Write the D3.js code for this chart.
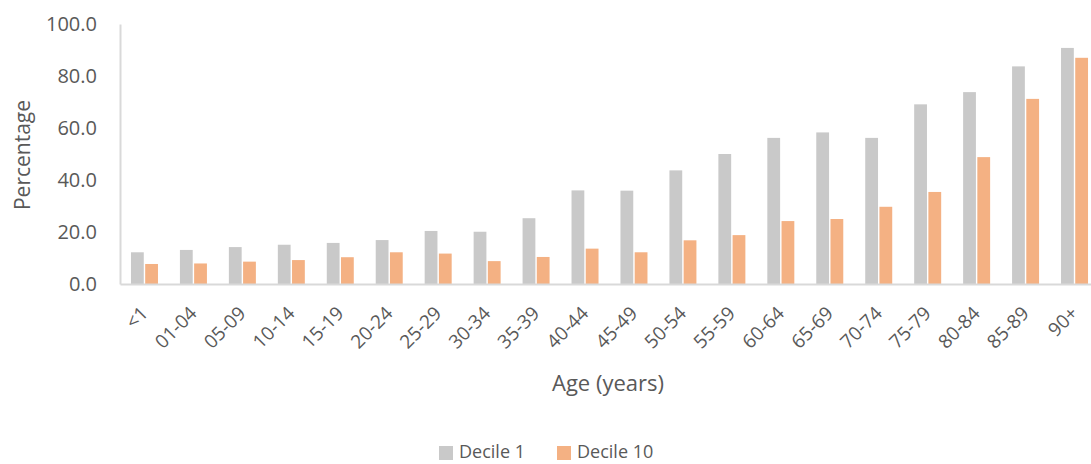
<!DOCTYPE html>
<html>
<head>
<meta charset="utf-8">
<script src="https://cdn.jsdelivr.net/npm/d3@7"></script>
<style>
  html, body { margin: 0; padding: 0; background: #fff; }
  svg { display: block; }
  text { font-family: "Open Sans", "Liberation Sans", sans-serif; fill: #595959; }
</style>
</head>
<body>
<svg id="chart" width="1091" height="464"></svg>
<script>
const categories = ["<1","01-04","05-09","10-14","15-19","20-24","25-29","30-34","35-39","40-44","45-49","50-54","55-59","60-64","65-69","70-74","75-79","80-84","85-89","90+"];
const decile1 = [12.2,13.1,14.2,15.1,15.8,16.9,20.4,20.1,25.3,36.0,35.9,43.7,50.0,56.2,58.3,56.2,69.1,73.8,83.7,90.8];
const decile10 = [7.7,7.9,8.6,9.2,10.3,12.2,11.7,8.8,10.4,13.6,12.2,16.8,18.8,24.2,25.0,29.7,35.4,48.8,71.2,87.0];
const seriesNames = ["Decile 1","Decile 10"];
const seriesColors = ["#C9C9C9","#F4B183"];
const yTicks = [0,20,40,60,80,100];

const svg = d3.select("#chart");
const x0 = d3.scaleBand().domain(categories).range([120, 1099]).paddingInner(0).paddingOuter(0);
const x1 = d3.scaleBand().domain(seriesNames).range([x0.bandwidth()/2 - 13.5, x0.bandwidth()/2 + 13.5]).paddingInner(0.1);
const y = d3.scaleLinear().domain([0,100]).range([284, 24]);

const data = categories.map((c,i) => ({cat:c, vals:[decile1[i], decile10[i]]}));

// bars
const g = svg.append("g");
const groups = g.selectAll("g.grp").data(data).enter().append("g")
  .attr("transform", d => `translate(${x0(d.cat)},0)`);
groups.selectAll("rect").data(d => d.vals.map((v,j)=>({v, s:seriesNames[j], c:seriesColors[j]})))
  .enter().append("rect")
  .attr("x", d => x1(d.s))
  .attr("width", x1.bandwidth())
  .attr("y", d => y(d.v))
  .attr("height", d => y(0) - y(d.v))
  .attr("fill", d => d.c);

// y axis
const yAxis = d3.axisLeft(y).tickValues(yTicks).tickFormat(d3.format(".1f")).tickSize(0).tickPadding(23);
const ya = svg.append("g").attr("transform","translate(120,0)").call(yAxis);
ya.select(".domain").attr("stroke","#D9D9D9").attr("stroke-width",2);
ya.selectAll("text").attr("font-size", 20).style("font-family", "'Open Sans', sans-serif").attr("fill","#595959");

// x axis
const xAxis = d3.axisBottom(x0).tickSize(0).tickPadding(0);
const xa = svg.append("g").attr("transform","translate(0,284)").call(xAxis);
xa.select(".domain").attr("stroke","#D9D9D9").attr("stroke-width",2);
xa.selectAll("text")
  .attr("font-size", 19)
  .style("font-family", "'Open Sans', sans-serif")
  .attr("text-anchor","end")
  .attr("dy", null)
  .attr("y", 0)
  .attr("transform","translate(1,27) rotate(-45)")
  .attr("dominant-baseline","middle")
  .attr("fill","#595959");

// axis titles
svg.append("text").attr("x", 608).attr("y", 391).attr("text-anchor","middle")
  .attr("font-size", 22).text("Age (years)");
svg.append("text").attr("transform","translate(30,155) rotate(-90)").attr("text-anchor","middle")
  .attr("font-size", 21).text("Percentage");

// legend
const legend = svg.append("g");
const legX = [439, 557];
seriesNames.forEach((s,i) => {
  legend.append("rect").attr("x", legX[i]).attr("y", 446).attr("width", 14).attr("height", 14).attr("fill", seriesColors[i]);
  legend.append("text").attr("x", legX[i] + 20).attr("y", 458)
    .attr("font-size", 18).text(s);
});
</script>
</body>
</html>
